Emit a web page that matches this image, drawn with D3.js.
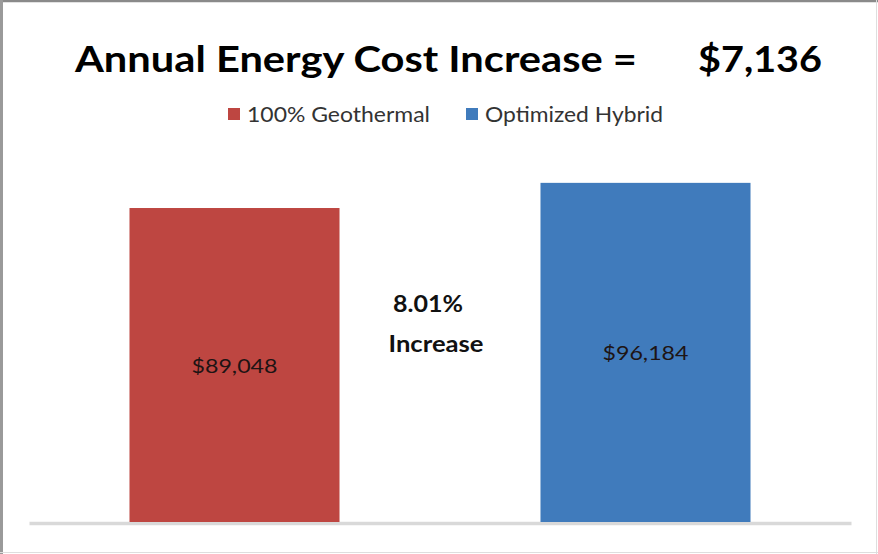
<!DOCTYPE html>
<html>
<head>
<meta charset="utf-8">
<script src="https://cdn.jsdelivr.net/npm/d3@7"></script>
<style>
  html, body { margin: 0; padding: 0; background: #ffffff; }
  svg { display: block; }
  text { font-family: "Lato", "Open Sans", "DejaVu Sans", sans-serif; }
</style>
</head>
<body>
<script>
// ---- data ----
const categories = ["100% Geothermal", "Optimized Hybrid"];
const values = [89048, 96184];
const valueLabels = ["$89,048", "$96,184"];
const seriesColors = ["#BE4641", "#407BBC"];
const titleText = "Annual Energy Cost Increase =";
const titleValue = "$7,136";
const noteLines = ["8.01%", "Increase"];
const yMax = 100000;

// ---- layout ----
const W = 878, H = 554;
const svg = d3.select("body").append("svg").attr("width", W).attr("height", H);

// frame
svg.append("rect").attr("x", 0).attr("y", 0).attr("width", W).attr("height", H).attr("fill", "#fff");
svg.append("line").attr("x1", 0).attr("x2", W).attr("y1", 1).attr("y2", 1).attr("stroke", "#8a8a8a").attr("stroke-width", 2.5);
svg.append("line").attr("x1", 1.5).attr("x2", 1.5).attr("y1", 0).attr("y2", H).attr("stroke", "#9a9a9a").attr("stroke-width", 3);
svg.append("line").attr("x1", 876.5).attr("x2", 876.5).attr("y1", 0).attr("y2", H).attr("stroke", "#dedede").attr("stroke-width", 1);
svg.append("line").attr("x1", 0).attr("x2", W).attr("y1", 552.5).attr("y2", 552.5).attr("stroke", "#dedede").attr("stroke-width", 1);

const plot = { left: 29, right: 851, top: 169.4, bottom: 522 };

const x = d3.scaleBand().domain(categories).range([plot.left, plot.right])
  .paddingInner(0.489).paddingOuter(0.2445);
const y = d3.scaleLinear().domain([0, yMax]).range([plot.bottom, plot.top]);

// baseline (category axis)
const xAxis = d3.axisBottom(x).tickSize(0).tickFormat("");
const axG = svg.append("g").attr("transform", `translate(0,${plot.bottom + 1})`).call(xAxis);
axG.select(".domain").attr("stroke", "#d9d9d9").attr("stroke-width", 3.5);

// bars
svg.selectAll("rect.bar").data(categories).enter().append("rect")
  .attr("class", "bar")
  .attr("x", d => x(d))
  .attr("width", x.bandwidth())
  .attr("y", (d, i) => y(values[i]))
  .attr("height", (d, i) => y(0) - y(values[i]))
  .attr("fill", (d, i) => seriesColors[i]);

// value labels centred in bars
svg.selectAll("text.val").data(categories).enter().append("text")
  .attr("class", "val")
  .attr("x", d => x(d) + x.bandwidth() / 2)
  .attr("y", (d, i) => (y(values[i]) + y(0)) / 2 + 8)
  .attr("text-anchor", "middle")
  .attr("font-size", 20)
  .attr("fill", "#1e1414")
  .attr("textLength", 86).attr("lengthAdjust", "spacingAndGlyphs")
  .text((d, i) => valueLabels[i]);

// title
svg.append("text").attr("x", 75).attr("y", 72)
  .attr("font-size", 37).attr("font-weight", "bold").attr("fill", "#000")
  .attr("textLength", 562).attr("lengthAdjust", "spacingAndGlyphs")
  .text(titleText);
svg.append("text").attr("x", 698).attr("y", 72)
  .attr("font-size", 37).attr("font-weight", "bold").attr("fill", "#000")
  .attr("textLength", 124).attr("lengthAdjust", "spacingAndGlyphs")
  .text(titleValue);

// legend
const legX = [228, 466];
const legW = [183, 178];
categories.forEach((c, i) => {
  svg.append("rect").attr("x", legX[i]).attr("y", 108).attr("width", 12).attr("height", 12)
    .attr("fill", seriesColors[i]);
  svg.append("text").attr("x", legX[i] + 19).attr("y", 122)
    .attr("font-size", 21).attr("fill", "#333")
    .attr("textLength", legW[i]).attr("lengthAdjust", "spacingAndGlyphs")
    .text(c);
});

// annotation
svg.append("text").attr("x", 428).attr("y", 312).attr("text-anchor", "middle")
  .attr("font-size", 23).attr("font-weight", "bold").attr("fill", "#111")
  .attr("textLength", 70).attr("lengthAdjust", "spacingAndGlyphs")
  .text(noteLines[0]);
svg.append("text").attr("x", 436).attr("y", 352).attr("text-anchor", "middle")
  .attr("font-size", 23).attr("font-weight", "bold").attr("fill", "#111")
  .attr("textLength", 95).attr("lengthAdjust", "spacingAndGlyphs")
  .text(noteLines[1]);
</script>
</body>
</html>
